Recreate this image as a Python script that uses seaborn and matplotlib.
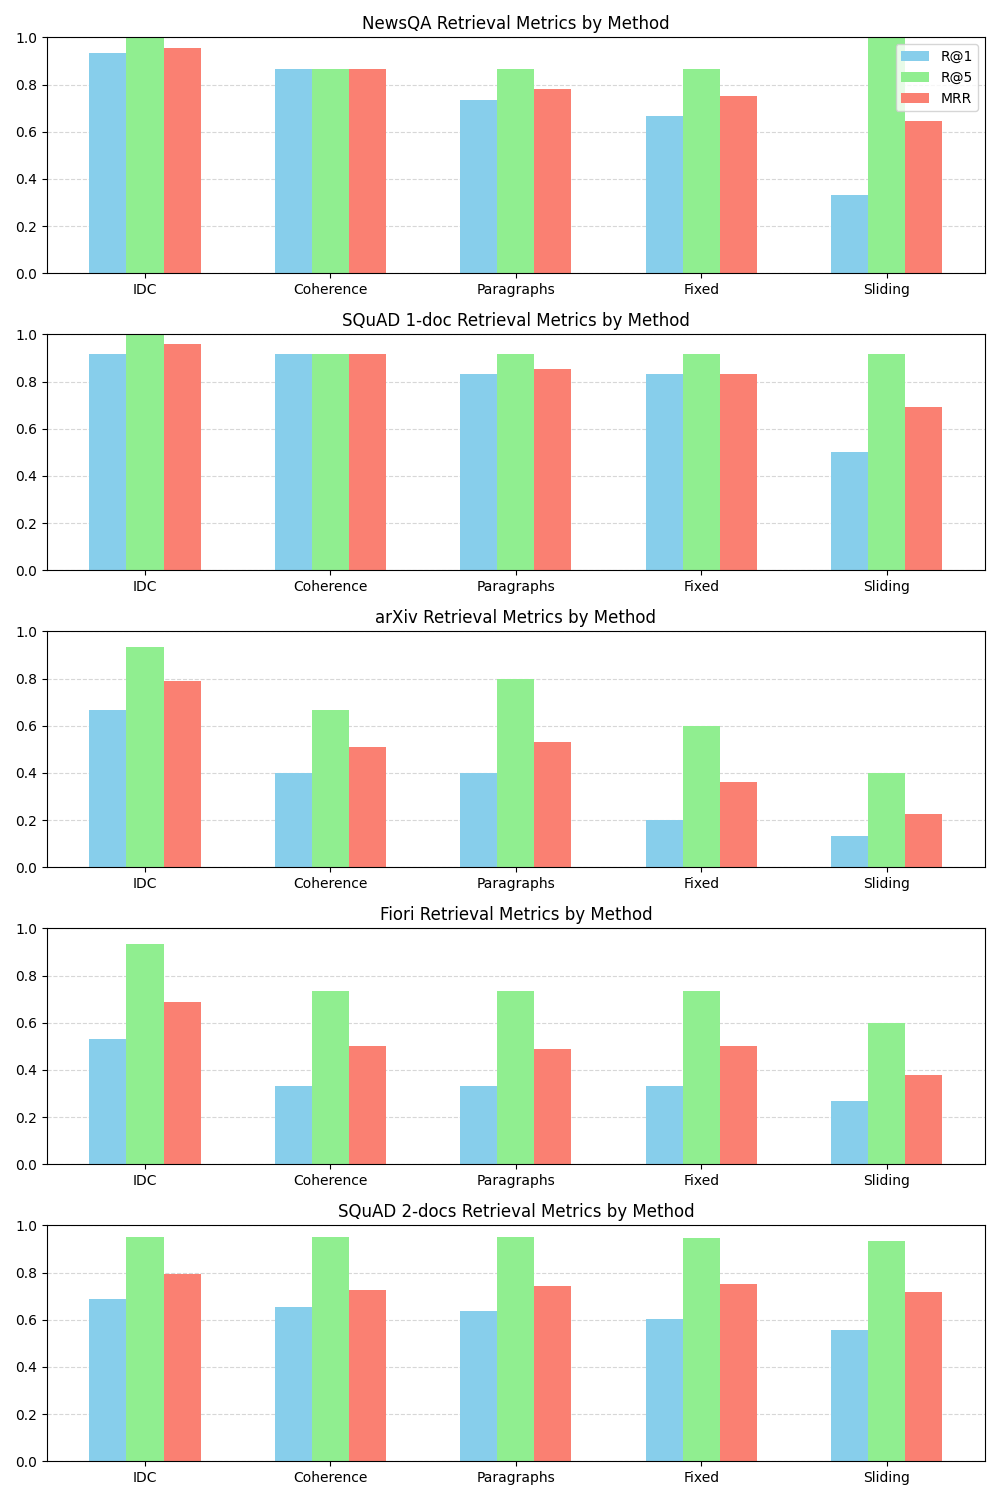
import matplotlib
matplotlib.use("Agg")
import matplotlib.pyplot as plt
import seaborn as sns
import pandas as pd

methods = ["IDC", "Coherence", "Paragraphs", "Fixed", "Sliding"]
metrics = ["R@1", "R@5", "MRR"]
colors = ["skyblue", "lightgreen", "salmon"]

datasets = ["NewsQA", "SQuAD 1-doc", "arXiv", "Fiori", "SQuAD 2-docs"]

newsqa_r1 = [0.933, 0.867, 0.733, 0.667, 0.333]
newsqa_r5 = [1.0, 0.867, 0.867, 0.867, 1.0]
newsqa_mrr = [0.956, 0.867, 0.783, 0.753, 0.647]

squad1_r1 = [0.917, 0.917, 0.833, 0.833, 0.5]
squad1_r5 = [1.0, 0.917, 0.917, 0.917, 0.917]
squad1_mrr = [0.958, 0.917, 0.854, 0.833, 0.694]

arxiv_r1 = [0.667, 0.4, 0.4, 0.2, 0.133]
arxiv_r5 = [0.933, 0.667, 0.8, 0.6, 0.4]
arxiv_mrr = [0.791, 0.511, 0.532, 0.362, 0.226]

fiori_r1 = [0.533, 0.333, 0.333, 0.333, 0.267]
fiori_r5 = [0.933, 0.733, 0.733, 0.733, 0.6]
fiori_mrr = [0.689, 0.5, 0.489, 0.5, 0.379]

squad2_r1 = [0.689, 0.655, 0.638, 0.604, 0.557]
squad2_r5 = [0.950, 0.950, 0.950, 0.947, 0.935]
squad2_mrr = [0.794, 0.727, 0.744, 0.752, 0.718]

all_values = [
    (newsqa_r1, newsqa_r5, newsqa_mrr),
    (squad1_r1, squad1_r5, squad1_mrr),
    (arxiv_r1, arxiv_r5, arxiv_mrr),
    (fiori_r1, fiori_r5, fiori_mrr),
    (squad2_r1, squad2_r5, squad2_mrr),
]

fig, axes = plt.subplots(5, 1, figsize=(10, 15), dpi=100)

for i, (ax, name, vals) in enumerate(zip(axes, datasets, all_values)):
    rows = []
    for m, v in zip(metrics, vals):
        for meth, val in zip(methods, v):
            rows.append({"Method": meth, "Metric": m, "Value": val})
    df = pd.DataFrame(rows)
    ax.set_axisbelow(True)
    ax.grid(axis="y", linestyle="--", color="lightgray", alpha=0.9, linewidth=0.8)
    sns.barplot(data=df, x="Method", y="Value", hue="Metric", order=methods,
                hue_order=metrics, palette=colors, saturation=1, width=0.6,
                ax=ax, legend=(i == 0), errorbar=None)
    ax.set_title(f"{name} Retrieval Metrics by Method", fontsize=12)
    ax.set_ylim(0, 1)
    ax.set_xlim(-0.53, 4.53)
    ax.set_xlabel("")
    ax.set_ylabel("")
    if i == 0:
        ax.legend(loc="upper right", title=None)

plt.tight_layout()
plt.savefig("out.png", dpi=100)
